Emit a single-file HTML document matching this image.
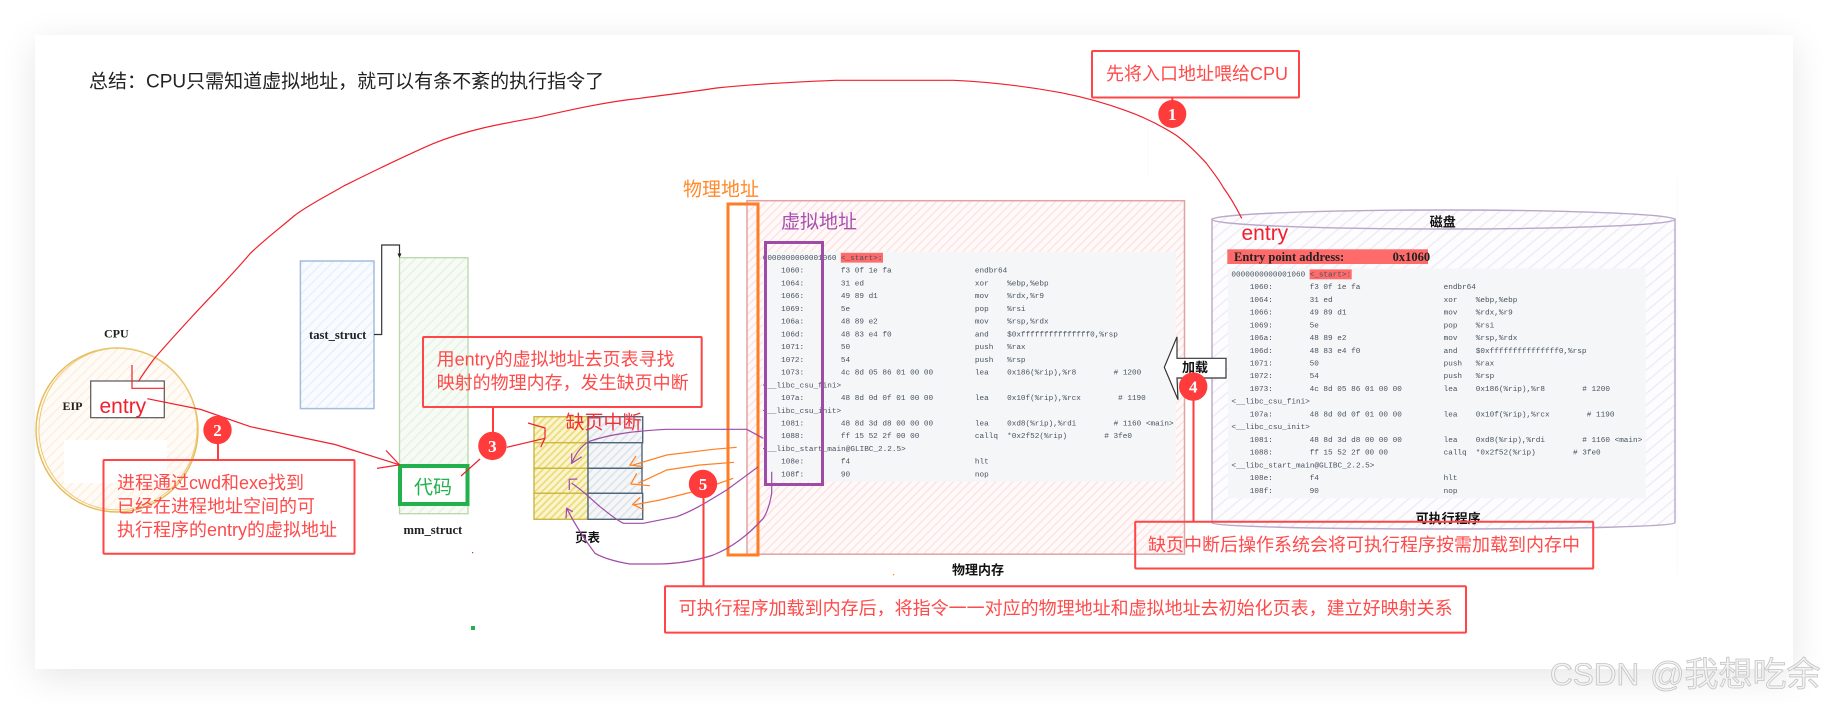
<!DOCTYPE html>
<html lang="zh">
<head>
<meta charset="utf-8">
<title>CPU虚拟地址执行流程</title>
<style>
html,body{margin:0;padding:0;width:1828px;height:704px;overflow:hidden;background:#fff}
#card{position:absolute;left:35px;top:35px;width:1758px;height:634px;background:#fff;box-shadow:0 8px 34px rgba(0,0,0,.10)}
svg{position:absolute;left:0;top:0;filter:blur(.3px)}
text{font-family:"Liberation Sans","Noto Sans CJK SC",sans-serif}
.r{fill:#ff4a4a;font-size:18px}
.box{fill:none;stroke:#ff4545;stroke-width:2}
.lead{stroke:#ff3b3b;stroke-width:2;fill:none}
.num{fill:#fff;font-family:"Liberation Serif",serif;font-weight:bold;font-size:17px;text-anchor:middle}
.b{font-weight:bold;font-size:13px;fill:#111}
.s{font-family:"Liberation Serif",serif;font-weight:bold;font-size:12px;fill:#222}
.red{fill:none;stroke:#f0202c;stroke-width:1.2}
.pur{fill:none;stroke:#a04aa8;stroke-width:1.2}
.org{fill:none;stroke:#ff8022;stroke-width:1.2}
.code text{font-family:"Liberation Mono",monospace;font-size:7.7px;fill:#47525e}
</style>
</head>
<body>
<div id="card"></div>
<svg width="1828" height="704" viewBox="0 0 1828 704" xmlns="http://www.w3.org/2000/svg">
<defs>
<pattern id="hPink" width="6" height="6" patternUnits="userSpaceOnUse" patternTransform="rotate(-45)"><rect width="6" height="6" fill="#fffafa"/><rect width="6" height="1.6" fill="#ffe3e3"/></pattern>
<pattern id="hDisk" width="9" height="9" patternUnits="userSpaceOnUse" patternTransform="rotate(-40)"><rect width="9" height="9" fill="#fdfcfe"/><rect width="9" height="1.3" fill="#eeeaf2"/></pattern>
<pattern id="hGreen" width="7" height="7" patternUnits="userSpaceOnUse" patternTransform="rotate(-45)"><rect width="7" height="7" fill="#f7fbf6"/><rect width="7" height="1.5" fill="#e7f2e3"/></pattern>
<pattern id="hBlue" width="7" height="7" patternUnits="userSpaceOnUse" patternTransform="rotate(-45)"><rect width="7" height="7" fill="#f8fbff"/><rect width="7" height="1.5" fill="#e9f0fa"/></pattern>
<pattern id="hPeach" width="7" height="7" patternUnits="userSpaceOnUse" patternTransform="rotate(-45)"><rect width="7" height="7" fill="#fffbf6"/><rect width="7" height="1.6" fill="#fdf0e2"/></pattern>
<pattern id="hYellow" width="5" height="5" patternUnits="userSpaceOnUse" patternTransform="rotate(-45)"><rect width="5" height="5" fill="#fbf5cf"/><rect width="5" height="1.8" fill="#ecdc7c"/></pattern>
<pattern id="hSlate" width="6" height="6" patternUnits="userSpaceOnUse" patternTransform="rotate(-45)"><rect width="6" height="6" fill="#f4f6f8"/><rect width="6" height="1.6" fill="#dde3e9"/></pattern>
</defs>

<!-- faint lines -->
<line x1="1148" y1="125" x2="1148" y2="177" stroke="#fafafa"/>
<line x1="1677" y1="178" x2="1677" y2="575" stroke="#f8f8f8"/>

<!-- title -->
<text x="89" y="87.5" font-size="19" fill="#222">总结：CPU只需知道虚拟地址，就可以有条不紊的执行指令了</text>

<!-- CPU circle -->
<text class="s" x="104" y="337.5">CPU</text>
<ellipse cx="117" cy="430" rx="81" ry="82" fill="url(#hPeach)" stroke="#e6bc55" stroke-width="1.4"/>
<ellipse cx="118" cy="429" rx="79" ry="81" fill="none" stroke="#ecc97a" stroke-width="1" transform="rotate(12 118 429)"/>
<rect x="64" y="440" width="103" height="43" fill="#fff"/>
<text class="s" x="62.5" y="410">EIP</text>
<rect x="90.7" y="381" width="73.6" height="36.7" fill="#fff" stroke="#555" stroke-width="1.2"/>
<text x="99.5" y="413" font-size="21" fill="#f0202c">entry</text>

<!-- task / mm -->
<rect x="300.4" y="261" width="73.6" height="147.6" fill="url(#hBlue)" stroke="#a5bcdc" stroke-width="1.5"/>
<text class="s" x="309" y="339" style="font-size:12.6px">tast_struct</text>
<rect x="399.5" y="257.7" width="68.5" height="256" fill="url(#hGreen)" stroke="#b9d6ac" stroke-width="1.3"/>
<text class="s" x="403.5" y="534" style="font-size:12.6px">mm_struct</text>
<path d="M374,334.5H381.7V245H399.5V254" fill="none" stroke="#333" stroke-width="1.2"/>
<path d="M397.5,253.5L401.5,253.5L399.5,258Z" fill="#222"/>
<rect x="400" y="466" width="67.5" height="38" fill="#fff" stroke="#22b14c" stroke-width="4"/>
<text x="414" y="493.5" font-size="19" fill="#22b14c">代码</text>
<rect x="471" y="626" width="4" height="4" fill="#22b14c"/>
<rect x="472" y="552" width="1.2" height="1.2" fill="#c33"/>
<rect x="893" y="574" width="1.2" height="1.2" fill="#f80"/>

<!-- page table -->
<rect x="534" y="416.7" width="54" height="26" fill="url(#hYellow)" stroke="#cdb642" stroke-width="1.4"/>
<rect x="534" y="442.7" width="54" height="25.6" fill="url(#hYellow)" stroke="#cdb642" stroke-width="1.4"/>
<rect x="534" y="468.3" width="54" height="25" fill="url(#hYellow)" stroke="#cdb642" stroke-width="1.4"/>
<rect x="534" y="493.3" width="54" height="26" fill="url(#hYellow)" stroke="#cdb642" stroke-width="1.4"/>
<rect x="588" y="416.7" width="54.7" height="26" fill="url(#hSlate)" stroke="#4f6579" stroke-width="1.4"/>
<rect x="588" y="442.7" width="54" height="25.6" fill="url(#hSlate)" stroke="#4f6579" stroke-width="1.4"/>
<rect x="588" y="468.3" width="54" height="25" fill="url(#hSlate)" stroke="#4f6579" stroke-width="1.4"/>
<rect x="588" y="493.3" width="54.7" height="26" fill="url(#hSlate)" stroke="#4f6579" stroke-width="1.4"/>
<text x="565.5" y="428.5" font-size="19" fill="#f0303a">缺页中断</text>
<text class="b" x="575" y="542" style="font-size:12.5px">页表</text>

<!-- physical memory -->
<rect x="747" y="200.7" width="437.5" height="353.5" fill="url(#hPink)" stroke="#dfa3a3" stroke-width="1.5"/>
<rect x="762.6" y="251.7" width="413.3" height="229.9" fill="#f5f6f8"/>
<rect x="840.8" y="252.8" width="42.2" height="9.8" fill="#ff6b6b"/>
<g class="code" transform="translate(762.7,260)">
<text x="0" y="0">0000000000001060</text><text x="78.2" y="0">&lt;_start&gt;:</text>
<text x="18.4" y="12.73">1060:</text><text x="78.2" y="12.73">f3 0f 1e fa</text><text x="212.2" y="12.73">endbr64</text>
<text x="18.4" y="25.46">1064:</text><text x="78.2" y="25.46">31 ed</text><text x="212.2" y="25.46">xor</text><text x="244.4" y="25.46">%ebp,%ebp</text>
<text x="18.4" y="38.19">1066:</text><text x="78.2" y="38.19">49 89 d1</text><text x="212.2" y="38.19">mov</text><text x="244.4" y="38.19">%rdx,%r9</text>
<text x="18.4" y="50.92">1069:</text><text x="78.2" y="50.92">5e</text><text x="212.2" y="50.92">pop</text><text x="244.4" y="50.92">%rsi</text>
<text x="18.4" y="63.65">106a:</text><text x="78.2" y="63.65">48 89 e2</text><text x="212.2" y="63.65">mov</text><text x="244.4" y="63.65">%rsp,%rdx</text>
<text x="18.4" y="76.38">106d:</text><text x="78.2" y="76.38">48 83 e4 f0</text><text x="212.2" y="76.38">and</text><text x="244.4" y="76.38">$0xfffffffffffffff0,%rsp</text>
<text x="18.4" y="89.11">1071:</text><text x="78.2" y="89.11">50</text><text x="212.2" y="89.11">push</text><text x="244.4" y="89.11">%rax</text>
<text x="18.4" y="101.84">1072:</text><text x="78.2" y="101.84">54</text><text x="212.2" y="101.84">push</text><text x="244.4" y="101.84">%rsp</text>
<text x="18.4" y="114.57">1073:</text><text x="78.2" y="114.57">4c 8d 05 86 01 00 00</text><text x="212.2" y="114.57">lea</text><text x="244.4" y="114.57">0x186(%rip),%r8</text><text x="350.9" y="114.57"># 1200</text>
<text x="0" y="127.3">&lt;__libc_csu_fini&gt;</text>
<text x="18.4" y="140.03">107a:</text><text x="78.2" y="140.03">48 8d 0d 0f 01 00 00</text><text x="212.2" y="140.03">lea</text><text x="244.4" y="140.03">0x10f(%rip),%rcx</text><text x="355.4" y="140.03"># 1190</text>
<text x="0" y="152.76">&lt;__libc_csu_init&gt;</text>
<text x="18.4" y="165.49">1081:</text><text x="78.2" y="165.49">48 8d 3d d8 00 00 00</text><text x="212.2" y="165.49">lea</text><text x="244.4" y="165.49">0xd8(%rip),%rdi</text><text x="350.9" y="165.49"># 1160 &lt;main&gt;</text>
<text x="18.4" y="178.22">1088:</text><text x="78.2" y="178.22">ff 15 52 2f 00 00</text><text x="212.2" y="178.22">callq</text><text x="244.4" y="178.22">*0x2f52(%rip)</text><text x="341.6" y="178.22"># 3fe0</text>
<text x="0" y="190.95">&lt;__libc_start_main@GLIBC_2.2.5&gt;</text>
<text x="18.4" y="203.68">108e:</text><text x="78.2" y="203.68">f4</text><text x="212.2" y="203.68">hlt</text>
<text x="18.4" y="216.41">108f:</text><text x="78.2" y="216.41">90</text><text x="212.2" y="216.41">nop</text>
</g>
<rect x="728" y="204" width="30" height="351" fill="none" stroke="#ff7d24" stroke-width="3"/>
<rect x="765.5" y="242.5" width="57" height="242" fill="none" stroke="#a04aa8" stroke-width="3"/>
<text x="683" y="195.5" font-size="19" fill="#ff8a2a">物理地址</text>
<text x="781" y="228" font-size="19" fill="#a850b0">虚拟地址</text>
<text class="b" x="952" y="574.5">物理内存</text>

<!-- disk -->
<path d="M1212,219V523A231.5,6 0 0 0 1675,523V219Z" fill="url(#hDisk)" stroke="#b9a6c9" stroke-width="1.4"/>
<ellipse cx="1443.5" cy="219.5" rx="231.5" ry="9.5" fill="url(#hDisk)" stroke="#b9a6c9" stroke-width="1.4"/>
<text class="b" x="1429.7" y="226.5">磁盘</text>
<text x="1241.5" y="240" font-size="21" fill="#f0202c">entry</text>
<rect x="1227.3" y="249.3" width="200.7" height="14.7" fill="#ff6b6b"/>
<text x="1234" y="261" style="font-family:'Liberation Serif',serif;font-weight:bold;font-size:12.5px;fill:#222">Entry point address:</text>
<text x="1392.6" y="261" style="font-family:'Liberation Serif',serif;font-weight:bold;font-size:12.5px;fill:#222">0x1060</text>
<rect x="1228" y="268.5" width="417.7" height="229.9" fill="#f5f6f8"/>
<rect x="1309.6" y="269.4" width="42.1" height="9.9" fill="#ff6b6b"/>
<g class="code" transform="translate(1231.4,276.4)">
<text x="0" y="0">0000000000001060</text><text x="78.2" y="0">&lt;_start&gt;:</text>
<text x="18.4" y="12.73">1060:</text><text x="78.2" y="12.73">f3 0f 1e fa</text><text x="212.2" y="12.73">endbr64</text>
<text x="18.4" y="25.46">1064:</text><text x="78.2" y="25.46">31 ed</text><text x="212.2" y="25.46">xor</text><text x="244.4" y="25.46">%ebp,%ebp</text>
<text x="18.4" y="38.19">1066:</text><text x="78.2" y="38.19">49 89 d1</text><text x="212.2" y="38.19">mov</text><text x="244.4" y="38.19">%rdx,%r9</text>
<text x="18.4" y="50.92">1069:</text><text x="78.2" y="50.92">5e</text><text x="212.2" y="50.92">pop</text><text x="244.4" y="50.92">%rsi</text>
<text x="18.4" y="63.65">106a:</text><text x="78.2" y="63.65">48 89 e2</text><text x="212.2" y="63.65">mov</text><text x="244.4" y="63.65">%rsp,%rdx</text>
<text x="18.4" y="76.38">106d:</text><text x="78.2" y="76.38">48 83 e4 f0</text><text x="212.2" y="76.38">and</text><text x="244.4" y="76.38">$0xfffffffffffffff0,%rsp</text>
<text x="18.4" y="89.11">1071:</text><text x="78.2" y="89.11">50</text><text x="212.2" y="89.11">push</text><text x="244.4" y="89.11">%rax</text>
<text x="18.4" y="101.84">1072:</text><text x="78.2" y="101.84">54</text><text x="212.2" y="101.84">push</text><text x="244.4" y="101.84">%rsp</text>
<text x="18.4" y="114.57">1073:</text><text x="78.2" y="114.57">4c 8d 05 86 01 00 00</text><text x="212.2" y="114.57">lea</text><text x="244.4" y="114.57">0x186(%rip),%r8</text><text x="350.9" y="114.57"># 1200</text>
<text x="0" y="127.3">&lt;__libc_csu_fini&gt;</text>
<text x="18.4" y="140.03">107a:</text><text x="78.2" y="140.03">48 8d 0d 0f 01 00 00</text><text x="212.2" y="140.03">lea</text><text x="244.4" y="140.03">0x10f(%rip),%rcx</text><text x="355.4" y="140.03"># 1190</text>
<text x="0" y="152.76">&lt;__libc_csu_init&gt;</text>
<text x="18.4" y="165.49">1081:</text><text x="78.2" y="165.49">48 8d 3d d8 00 00 00</text><text x="212.2" y="165.49">lea</text><text x="244.4" y="165.49">0xd8(%rip),%rdi</text><text x="350.9" y="165.49"># 1160 &lt;main&gt;</text>
<text x="18.4" y="178.22">1088:</text><text x="78.2" y="178.22">ff 15 52 2f 00 00</text><text x="212.2" y="178.22">callq</text><text x="244.4" y="178.22">*0x2f52(%rip)</text><text x="341.6" y="178.22"># 3fe0</text>
<text x="0" y="190.95">&lt;__libc_start_main@GLIBC_2.2.5&gt;</text>
<text x="18.4" y="203.68">108e:</text><text x="78.2" y="203.68">f4</text><text x="212.2" y="203.68">hlt</text>
<text x="18.4" y="216.41">108f:</text><text x="78.2" y="216.41">90</text><text x="212.2" y="216.41">nop</text>
</g>
<text class="b" x="1415.6" y="523">可执行程序</text>

<!-- load arrow -->
<path d="M1164.3,367.3L1177,336.8V358.3H1226V378H1177L1178,399.6Z" fill="#fff" stroke="#333" stroke-width="1.2"/>
<text class="b" x="1182" y="372">加载</text>

<!-- connectors red -->
<path class="red" d="M1241.7,218.3C1236,207 1231,198 1223.6,188C1218,178 1212,171 1206.4,163.3C1197,153 1187,143 1175.8,135C1160,125 1144,117 1126,110.7C1105,103 1083,97 1061,92.7C1025,86 990,82 953.8,80.3L835,80.3C795,82 755,84 716.5,88C690,92 665,95 640,98.3C605,102 570,110 536,117.6C500,124 466,130 433,143.7C400,158 372,172 343.7,186C325,197 310,204 294.6,215.5C280,228 264,240 250,253.7C232,275 212,295 192,316.6C178,332 166,345 154,359C148,367 143,374 138.3,381.7"/>
<path class="red" d="M132,365V388.3H164.3"/>
<path class="red" d="M147.3,398.7L201,409.5L250,426.6L335,444.5L399.5,464.8"/>
<path class="red" d="M386,450.4L399.5,464.8L377,468.4"/>
<path class="red" d="M461,476L480,459"/>
<path class="red" d="M506.7,447.3L545,438.3"/>
<path class="red" d="M528,423L545,428L545,438L540.7,447.3"/>

<!-- connectors purple -->
<path class="pur" d="M763.3,438.3L746.7,429.3H666.7C635,431 610,434 588.3,441.7C580,447 575,455 571.7,463.3"/>
<path class="pur" d="M571.7,453.3L571.7,463.3L581.7,456.7"/>
<path class="pur" d="M758.3,466.7L726.7,490C710,500 695,510 676.7,516.7L643.3,523.3H623.3C615,519 608,513 600,506.7C590,498 582,490 571.7,483.3"/>
<path class="pur" d="M577.3,479L569.3,479.3V490"/>
<path class="pur" d="M771.7,471.7V493.3C770,503 768,511 763.3,518.3C748,535 733,547 713.3,555C695,561 675,564 656.7,564H630C618,562 605,559 595,553.3C585,540 575,525 566.7,508.3"/>
<path class="pur" d="M566,518.3L566.7,508.3L572.7,511.7"/>

<!-- connectors orange -->
<path class="org" d="M736.7,447.3L713.3,449.3L666.7,455L633.3,465"/>
<path class="org" d="M636,456L630,465L643.3,466.7"/>
<path class="org" d="M734,462.3L700,465L666.7,470L638.3,483.3"/>
<path class="org" d="M636.7,473.3L631,484L650,485.7"/>
<path class="org" d="M733.3,478.3L700,490L660,500L633.3,505"/>
<path class="org" d="M640,497.3L632.7,504.3L644,510"/>

<!-- annotation boxes -->
<rect class="box" x="1092" y="51" width="207" height="46.5" rx="1"/>
<text class="r" x="1106" y="80">先将入口地址喂给CPU</text>

<rect class="box" x="103.5" y="460" width="251" height="93.7" rx="1"/>
<text class="r" x="117" y="489">进程通过cwd和exe找到</text>
<text class="r" x="117" y="512.5">已经在进程地址空间的可</text>
<text class="r" x="117" y="536">执行程序的entry的虚拟地址</text>

<rect class="box" x="423" y="337" width="278.7" height="70" rx="1"/>
<text class="r" x="436.6" y="365.5">用entry的虚拟地址去页表寻找</text>
<text class="r" x="436.6" y="389">映射的物理内存，发生缺页中断</text>

<rect class="box" x="1135.2" y="521.8" width="458" height="46.7" rx="1"/>
<text class="r" x="1148" y="551">缺页中断后操作系统会将可执行程序按需加载到内存中</text>

<rect class="box" x="665" y="586.3" width="801" height="46.3" rx="1"/>
<text class="r" x="678.6" y="614.5">可执行程序加载到内存后，将指令一一对应的物理地址和虚拟地址去初始化页表，建立好映射关系</text>

<!-- number markers -->
<line class="lead" x1="1172.3" y1="97" x2="1172.3" y2="102"/>
<circle cx="1172.3" cy="114" r="14" fill="#ff3b3b"/><text class="num" x="1172.3" y="120">1</text>
<line class="lead" x1="218" y1="430" x2="218" y2="460"/>
<circle cx="217.5" cy="430" r="14.2" fill="#ff3b3b"/><text class="num" x="217.5" y="436">2</text>
<line class="lead" x1="493" y1="407" x2="493" y2="440"/>
<circle cx="492.4" cy="445.9" r="14.2" fill="#ff3b3b"/><text class="num" x="492.4" y="452">3</text>
<line class="lead" x1="1193.5" y1="386" x2="1193.5" y2="522"/>
<circle cx="1193.2" cy="386.6" r="14.2" fill="#ff3b3b"/><text class="num" x="1193.2" y="392.6">4</text>
<line class="lead" x1="703.5" y1="484" x2="703.5" y2="586"/>
<circle cx="703" cy="484" r="14.2" fill="#ff3b3b"/><text class="num" x="703" y="490">5</text>

<!-- watermark -->
<text x="1550" y="685" font-size="31.5" fill="#f3f3f3" stroke="#c4c4c4" stroke-width=".8">CSDN</text>
<text x="1650" y="686" font-size="34" fill="#f3f3f3" stroke="#c4c4c4" stroke-width=".8">@我想吃余</text>
</svg>
</body>
</html>
